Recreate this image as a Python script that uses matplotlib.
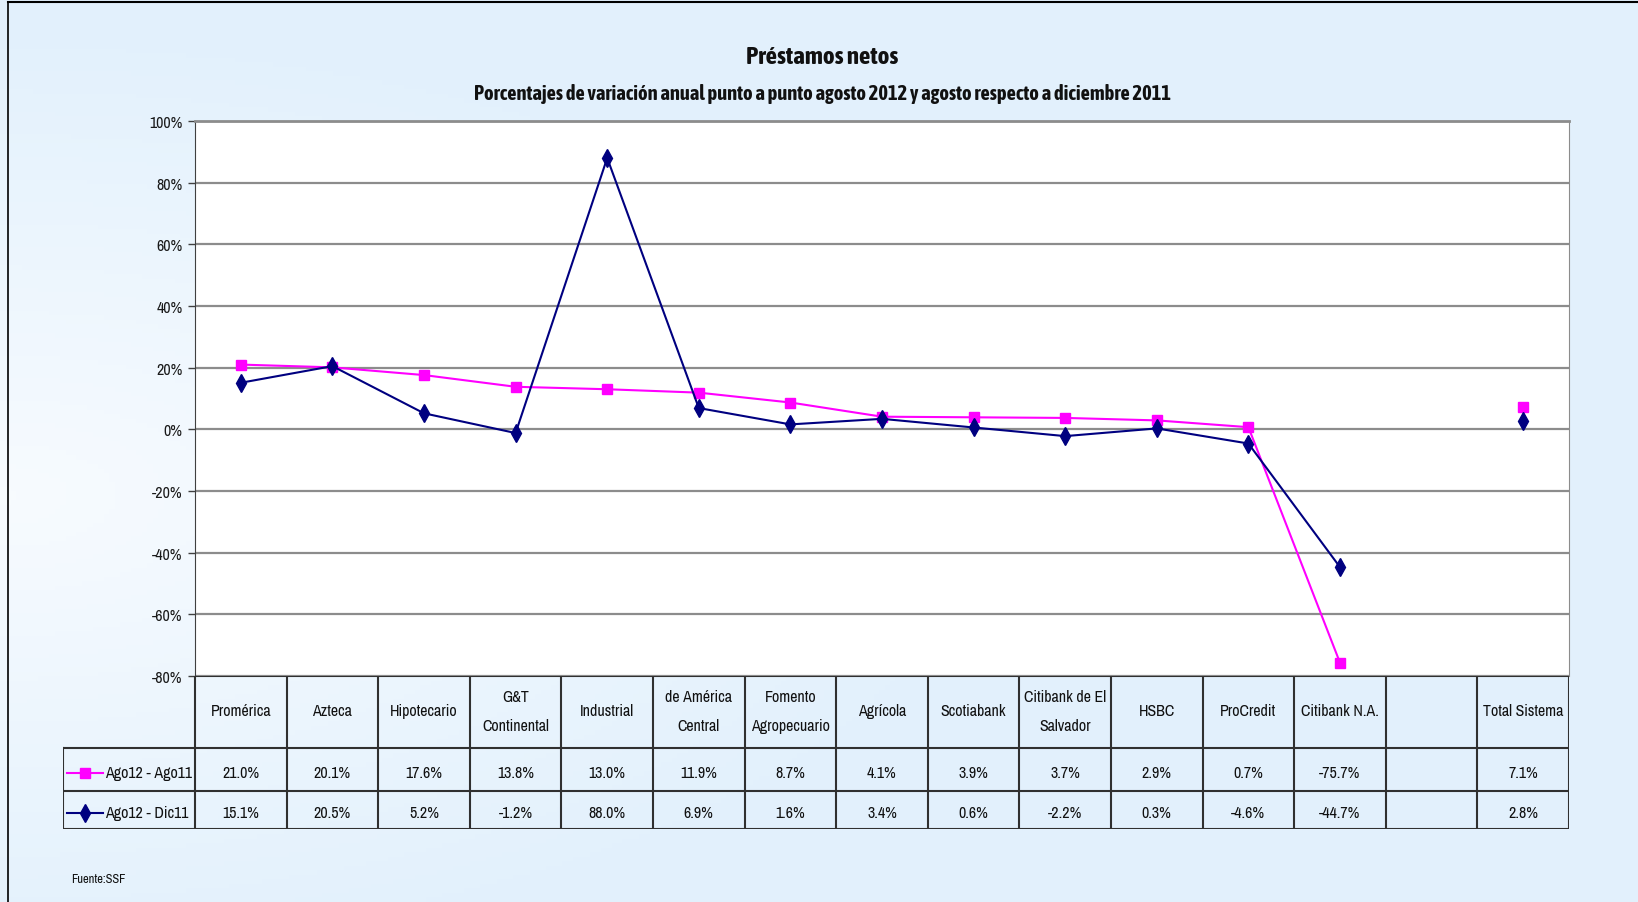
import numpy as np
import matplotlib
matplotlib.use("Agg")
import matplotlib.pyplot as plt

plt.rcParams['font.family'] = ['Archivo Narrow', 'Liberation Sans', 'DejaVu Sans']
bold_family = ['Asap Condensed', 'Archivo Narrow', 'Liberation Sans', 'DejaVu Sans']

# data
categories = ["Promérica", "Azteca", "Hipotecario", "G&T\nContinental", "Industrial",
              "de América\nCentral", "Fomento\nAgropecuario", "Agrícola", "Scotiabank",
              "Citibank de El\nSalvador", "HSBC", "ProCredit", "Citibank N.A.", "",
              "Total Sistema"]
ago_ago = [21.0, 20.1, 17.6, 13.8, 13.0, 11.9, 8.7, 4.1, 3.9, 3.7, 2.9, 0.7, -75.7, np.nan, 7.1]
ago_dic = [15.1, 20.5, 5.2, -1.2, 88.0, 6.9, 1.6, 3.4, 0.6, -2.2, 0.3, -4.6, -44.7, np.nan, 2.8]
series_names = ["Ago12 - Ago11", "Ago12 - Dic11"]
yticks = [-80, -60, -40, -20, 0, 20, 40, 60, 80, 100]

W, H = 1638, 903
fs = 11.5
fig = plt.figure(figsize=(W / 100, H / 100), dpi=100)

# background gradient
bg = fig.add_axes([0, 0, 1, 1], zorder=-10)
yy, xx = np.mgrid[0:1:200j, 0:1:300j]
d = np.sqrt(((xx - 0.0) / 0.6) ** 2 + ((yy - 0.55) / 0.5) ** 2)
t = np.clip(d, 0, 1)
light = np.array([0.97, 0.985, 1.0])
blue = np.array([0.89, 0.945, 0.99])
img = light[None, None, :] * (1 - t[..., None]) + blue[None, None, :] * t[..., None]
bg.imshow(img, aspect="auto", extent=[0, 1, 0, 1], origin="upper")
bg.set_xlim(0, 1)
bg.set_ylim(0, 1)
bg.axis("off")
# outer frame (left and top only visible)
bg.plot([8 / W, 8 / W], [0, 1 - 3 / H], color="black", lw=1.2)
bg.plot([8 / W, 1], [1 - 3 / H, 1 - 3 / H], color="black", lw=1.5)

# main plot
x0, x1 = 195 / W, 1569 / W
yb, yt = 1 - 677 / H, 1 - 122 / H
ax = fig.add_axes([x0, yb, x1 - x0, yt - yb])
ax.set_facecolor("white")
x = np.arange(len(categories))
ax.plot(x, ago_ago, color="#FF00FF", lw=1.5, marker="s", markersize=7, zorder=3)
ax.plot(x, ago_dic, color="#000080", lw=1.5, marker="d", markersize=9, zorder=4)
ax.set_xlim(-0.5, len(categories) - 0.5)
ax.set_ylim(-80, 100)
ax.set_yticks(yticks)
ax.set_yticklabels([f"{v}%" for v in yticks], fontsize=fs, color="#1a1a1a")
ax.set_xticks([])
ax.grid(axis="y", color="#8c8c8c", lw=1.6)
ax.tick_params(axis="y", length=5, width=1, color="#404040", pad=4)
for s in ["top", "right"]:
    ax.spines[s].set_color("#8c8c8c")
ax.spines["top"].set_linewidth(2)
ax.spines["left"].set_color("#404040")
ax.spines["bottom"].set_visible(False)

# data table
ncol = len(categories)
legw = (195 - 63) / ((1569 - 195) / ncol)
tb = fig.add_axes([63 / W, 1 - 830 / H, (1569 - 63) / W, (830 - 677) / H])
tb.set_xlim(-0.5 - legw, ncol - 0.5)
tb.set_ylim(153, 0)
tb.axis("off")
lc = "#303030"
rows = [0, 72, 115, 153]
tb.plot([-0.5, ncol - 0.5], [rows[0], rows[0]], color=lc, lw=1.5)
for r in rows[1:]:
    tb.plot([-0.5 - legw, ncol - 0.5], [r, r], color=lc, lw=1.5)
for i in range(ncol + 1):
    tb.plot([i - 0.5, i - 0.5], [rows[0], rows[3]], color=lc, lw=1.5)
tb.plot([-0.5 - legw] * 2, [rows[1], rows[3]], color=lc, lw=1.5)

for i, c in enumerate(categories):
    tb.text(i, 35, c, ha="center", va="center", fontsize=fs, linespacing=2.1, color="#111111")
    if not np.isnan(ago_ago[i]):
        tb.text(i, 97, f"{ago_ago[i]:.1f}%", ha="center", va="center", fontsize=fs, color="#111111")
        tb.text(i, 137, f"{ago_dic[i]:.1f}%", ha="center", va="center", fontsize=fs, color="#111111")

styles = [("#FF00FF", "s", 7), ("#000080", "d", 9)]
for (col, mk, ms), name, yc in zip(styles, series_names, [97, 137]):
    xs = -0.5 - legw + 0.04
    tb.plot([xs, xs + 0.4], [yc, yc], color=col, lw=1.5)
    tb.plot([xs + 0.2], [yc], color=col, marker=mk, markersize=ms)
    tb.text(xs + 0.42, yc, name, ha="left", va="center", fontsize=fs, color="#111111")

# titles
fig.text(822 / W, 1 - 57 / H, "Préstamos netos", ha="center", va="center",
         fontsize=18, fontweight="bold", color="#111111", family=bold_family)
fig.text(822 / W, 1 - 94 / H,
         "Porcentajes de variación anual punto a punto agosto 2012 y agosto respecto a diciembre 2011",
         ha="center", va="center", fontsize=14.7, fontweight="bold", color="#111111", family=bold_family)
fig.text(71 / W, 1 - 880 / H, "Fuente:SSF", ha="left", va="center", fontsize=9, color="#111111")

fig.savefig("out.png", dpi=100)
